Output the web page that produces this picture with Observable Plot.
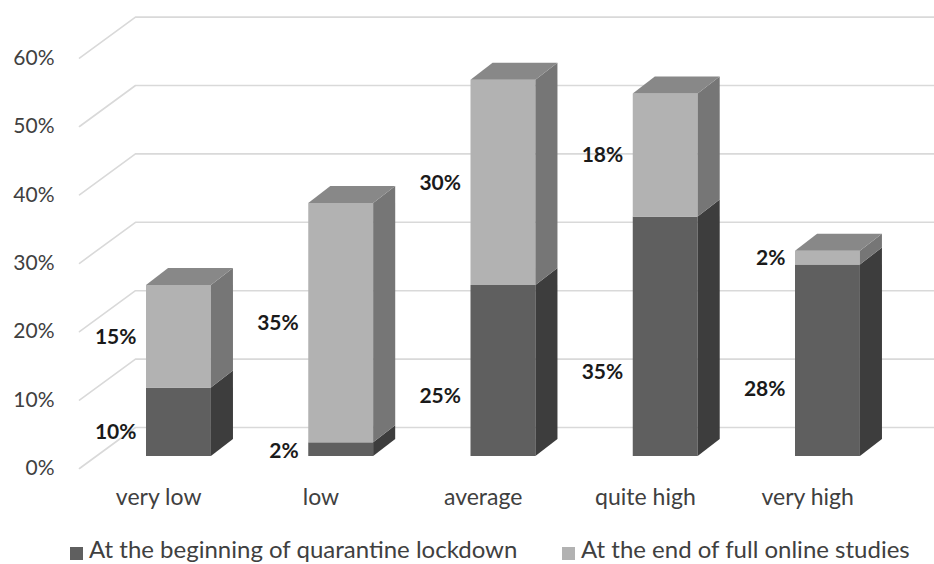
<!DOCTYPE html>
<html><head><meta charset="utf-8">
<script src="https://cdn.jsdelivr.net/npm/d3@7"></script>
<script src="https://cdn.jsdelivr.net/npm/@observablehq/plot@0.6"></script>
<style>
body{margin:0;background:#fff;font-family:Lato,"Open Sans",sans-serif;}
#chart{position:relative;width:934px;height:564px;overflow:hidden;background:#fff}
#chart svg{display:block}
.leg{position:absolute;top:536px;display:flex;align-items:center;font-size:24px;color:#404040;white-space:nowrap;line-height:26px}
.sw{width:13px;height:13px;margin-right:6px;display:inline-block;position:relative;top:4px}
</style></head><body>
<div id="chart"></div>
<script>
const categories = ["very low", "low", "average", "quite high", "very high"];
const beginning = [10, 2, 25, 35, 28];
const endStudies = [15, 35, 30, 18, 2];
const yTicks = [0, 10, 20, 30, 40, 50, 60];
const seriesNames = ["At the beginning of quarantine lockdown", "At the end of full online studies"];

// 3D projection constants (slot units on x, percent units on y)
const W = 0.4, DX = 0.136, DY = 2.49;
const FRONT_X = -0.413, FRONT_DY = -1.754, BACK_X = -0.068, BACK_DY = 4.24, RIGHT_X = 4.86;
const TICK_X = -0.567;
const cDark = "#5f5f5f", cDarkSide = "#3d3d3d", cLight = "#b2b2b2", cLightSide = "#767676", cTop = "#888888";

const rows = categories.map((c, i) => ({i, c, b: beginning[i], e: endStudies[i], t: beginning[i] + endStudies[i]}));

const grid = yTicks.flatMap(v => [
  {v, x: FRONT_X, y: v + FRONT_DY},
  {v, x: BACK_X, y: v + BACK_DY},
  {v, x: RIGHT_X, y: v + BACK_DY}
]);

const side = (lo, hi) => rows.flatMap(d => [
  {k: d.i, x: d.i + W, y1: lo(d), y2: hi(d)},
  {k: d.i, x: d.i + W + DX, y1: lo(d) + DY, y2: hi(d) + DY}
]);
const tops = rows.flatMap(d => [
  {k: d.i, y: d.t, x1: d.i, x2: d.i + W},
  {k: d.i, y: d.t + DY, x1: d.i + DX, x2: d.i + W + DX}
]);

const plot = Plot.plot({
  width: 934, height: 536,
  marginTop: 0, marginBottom: 0, marginLeft: 0, marginRight: 0,
  x: {type: "linear", domain: [0, 4], range: [146, 795], axis: null},
  y: {type: "linear", domain: [0, 60], range: [456, 45.6], axis: null},
  style: {fontFamily: "Lato, 'Open Sans', sans-serif", background: "#fff"},
  marks: [
    Plot.line(grid, {x: "x", y: "y", z: "v", stroke: "#d9d9d9", strokeWidth: 1.6}),
    Plot.text(yTicks, {x: TICK_X, y: v => v + FRONT_DY, text: v => v + "%", textAnchor: "end", fontSize: 21, fill: "#404040"}),
    // front faces
    Plot.rect(rows, {x1: d => d.i, x2: d => d.i + W, y1: 0, y2: "b", fill: cDark}),
    Plot.rect(rows, {x1: d => d.i, x2: d => d.i + W, y1: "b", y2: "t", fill: cLight}),
    // side faces
    Plot.areaY(side(d => 0, d => d.b), {x: "x", y1: "y1", y2: "y2", z: "k", fill: cDarkSide}),
    Plot.areaY(side(d => d.b, d => d.t), {x: "x", y1: "y1", y2: "y2", z: "k", fill: cLightSide}),
    // top faces
    Plot.areaX(tops, {y: "y", x1: "x1", x2: "x2", z: "k", fill: cTop}),
    // category labels
    Plot.text(rows, {x: d => d.i + 0.075, y: 0, dy: 41, text: "c", fontSize: 23, fill: "#404040"}),
    // data labels
    Plot.text(rows, {x: "i", y: d => d.b * 0.35, text: d => d.b + "%", textAnchor: "end", dx: -10, fontSize: 21, fontWeight: "bold", fill: "#1a1a1a"}),
    Plot.text(rows, {x: "i", y: d => d.b + d.e / 2, text: d => d.e + "%", textAnchor: "end", dx: -10, fontSize: 21, fontWeight: "bold", fill: "#1a1a1a"})
  ]
});
const chart = document.getElementById("chart");
chart.appendChild(plot);
const legendItems = [{name: seriesNames[0], color: cDark, left: 70}, {name: seriesNames[1], color: cLight, left: 562}];
for (const it of legendItems) {
  const d = document.createElement("div");
  d.className = "leg";
  d.style.left = it.left + "px";
  d.innerHTML = `<span class="sw" style="background:${it.color}"></span><span></span>`;
  d.lastChild.textContent = it.name;
  chart.appendChild(d);
}
</script>
</body></html>
